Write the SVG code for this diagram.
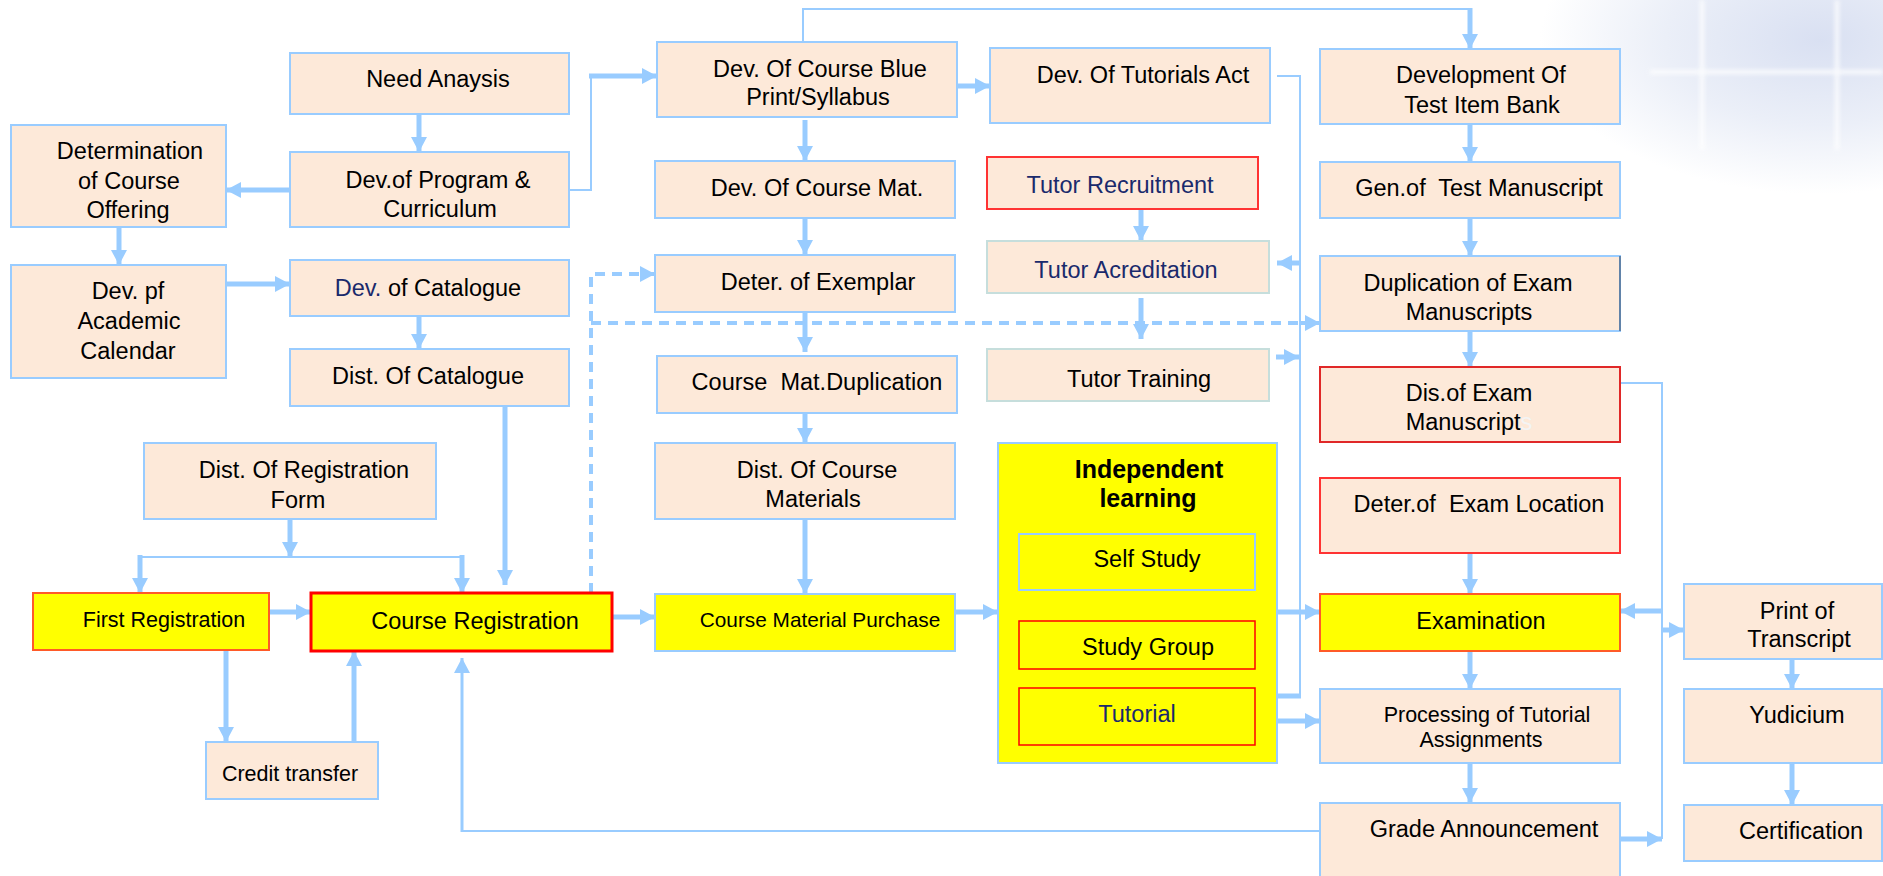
<svg xmlns="http://www.w3.org/2000/svg" width="1883" height="876" viewBox="0 0 1883 876">
<defs>
<radialGradient id="bg" cx="1820" cy="40" r="280" gradientUnits="userSpaceOnUse" gradientTransform="translate(1820 40) scale(1 0.55) translate(-1820 -40)">
<stop offset="0" stop-color="#D9E0F2"/>
<stop offset="0.55" stop-color="#EBEFF8"/>
<stop offset="1" stop-color="#FFFFFF"/>
</radialGradient>
<filter id="blur" x="-10%" y="-10%" width="120%" height="120%"><feGaussianBlur stdDeviation="2"/></filter>
<marker id="ah" markerUnits="userSpaceOnUse" markerWidth="16" markerHeight="18" refX="15" refY="8" orient="auto" viewBox="0 0 16 16">
<path d="M0,0 L15,8 L0,16 Z" fill="#99CCFF"/>
</marker>
<style>
.n rect{fill:#FDE9D9;stroke:#99CCFF;stroke-width:2}
.y rect{fill:#FFFF00}
.t{font-family:"Liberation Sans",Arial,sans-serif;font-size:23.5px;text-anchor:middle;fill:#000}
.s{font-size:21.5px}
.nv{fill:#1A2A6C}
.c{stroke:#99CCFF;stroke-width:5;fill:none}
.h{stroke:#99CCFF;stroke-width:2;fill:none}
.d{stroke:#99CCFF;stroke-width:4;fill:none;stroke-dasharray:10 7}
.a{marker-end:url(#ah)}
</style>
</defs>
<rect width="1883" height="876" fill="#FFFFFF"/>
<rect x="1480" y="0" width="403" height="260" fill="url(#bg)"/>
<g stroke="#FFFFFF" stroke-width="4" opacity="0.85" filter="url(#blur)">
<line x1="1702" y1="0" x2="1702" y2="150"/>
<line x1="1837" y1="0" x2="1837" y2="150"/>
<line x1="1650" y1="72" x2="1883" y2="72"/>
</g>

<g id="connectors">
<path class="c a" d="M419,114 V152"/>
<path class="c a" d="M290,190 H226"/>
<path class="c a" d="M119,227 V265"/>
<path class="c a" d="M226,284 H290"/>
<path class="c a" d="M419,316 V349"/>
<path class="h" d="M569,190 H591 V76"/>
<path class="c a" d="M589,76 H657"/>
<path class="c a" d="M957,86 H990"/>
<path class="c a" d="M805,120 V161"/>
<path class="c a" d="M805,218 V255"/>
<path class="c a" d="M805,312 V352"/>
<path class="c a" d="M805,413 V443"/>
<path class="c a" d="M805,519 V594"/>
<path class="c a" d="M955,612 H998"/>
<path class="c a" d="M612,617 H655"/>
<path class="h" d="M803,42 V9 H1470"/>
<path class="c a" d="M1470,8 V49"/>
<path class="c a" d="M1470,124 V162"/>
<path class="c a" d="M1470,218 V256"/>
<path class="c a" d="M1470,331 V367"/>
<path class="c a" d="M1470,553 V594"/>
<path class="c a" d="M1470,651 V689"/>
<path class="c a" d="M1470,763 V803"/>
<path class="c a" d="M1792,648 V689"/>
<path class="c a" d="M1792,763 V805"/>
<path class="c a" d="M1141,209 V241"/>
<path class="c a" d="M1141,298 V339"/>
<path class="c a" d="M290,519 V557"/>
<path class="h" d="M140,557 H462"/>
<path class="c a" d="M140,555 V593"/>
<path class="c a" d="M462,555 V593"/>
<path class="c a" d="M269,612 H311"/>
<path class="c a" d="M226,650 V742"/>
<path class="c a" d="M354,742 V651"/>
<path class="c a" d="M505,406 V585"/>
<path class="c a" d="M1277,612 H1320"/>
<path class="c a" d="M1255,721 H1320"/>
<path class="h" d="M1277,76 H1300 V696"/>
<path class="c a" d="M1301,696 H1255"/>
<path class="c a" d="M1300,263 H1277"/>
<path class="c a" d="M1276,357 H1299"/>
<path class="h" d="M1620,383 H1662 V611"/>
<path class="c a" d="M1663,611 H1620"/>
<path class="c a" d="M1620,839 H1662"/>
<path class="h" d="M1662,839 V611"/>
<path class="c a" d="M1661,630 H1684"/>
<path class="h" d="M1320,831 H462"/>
<path class="c a" d="M462,832 V658" style="stroke-width:3"/>
<path class="d" d="M591,593 V274 H644"/>
<path class="d a" d="M640,274 H655" style="stroke-dasharray:none"/>
<path class="d" d="M591,323 H1306"/>
<path class="d a" d="M1300,323 H1320" style="stroke-dasharray:none"/>
</g>

<g id="need-analysis" class="n"><rect x="290" y="53" width="279" height="61"/><text class="t" x="438" y="87">Need Anaysis</text></g>
<g id="dev-program" class="n"><rect x="290" y="152" width="279" height="75"/><text class="t" x="438" y="188">Dev.of Program &amp;</text><text class="t" x="440" y="217">Curriculum</text></g>
<g id="determination" class="n"><rect x="11" y="125" width="215" height="102"/><text class="t" x="130" y="159">Determination</text><text class="t" x="129" y="189">of Course</text><text class="t" x="128" y="218">Offering</text></g>
<g id="dev-calendar" class="n"><rect x="11" y="265" width="215" height="113"/><text class="t" x="128" y="299">Dev. pf</text><text class="t" x="129" y="329">Academic</text><text class="t" x="128" y="359">Calendar</text></g>
<g id="dev-catalogue" class="n"><rect x="290" y="260" width="279" height="56"/><text class="t" x="428" y="296"><tspan class="nv">Dev.</tspan> of Catalogue</text></g>
<g id="dist-catalogue" class="n"><rect x="290" y="349" width="279" height="57"/><text class="t" x="428" y="384">Dist. Of Catalogue</text></g>
<g id="dist-registration" class="n"><rect x="144" y="443" width="292" height="76"/><text class="t" x="304" y="478">Dist. Of Registration</text><text class="t" x="298" y="508">Form</text></g>
<g id="first-registration" class="n y"><rect x="33" y="593" width="236" height="57" style="stroke:#FF5A28"/><text class="t s" x="164" y="627">First Registration</text></g>
<g id="course-registration" class="n y"><rect x="311" y="593" width="301" height="58" style="stroke:#FF0000;stroke-width:3"/><text class="t" x="475" y="629">Course Registration</text></g>
<g id="credit-transfer" class="n"><rect x="206" y="742" width="172" height="57"/><text class="t s" x="290" y="781">Credit transfer</text></g>

<g id="blueprint" class="n"><rect x="657" y="42" width="300" height="75"/><text class="t" x="820" y="77">Dev. Of Course Blue</text><text class="t" x="818" y="105">Print/Syllabus</text></g>
<g id="tutorials-act" class="n"><rect x="990" y="48" width="280" height="75"/><text class="t" x="1143" y="83">Dev. Of Tutorials Act</text></g>
<g id="course-mat" class="n"><rect x="655" y="161" width="300" height="57"/><text class="t" x="817" y="196">Dev. Of Course Mat.</text></g>
<g id="exemplar" class="n"><rect x="655" y="255" width="300" height="57"/><text class="t" x="818" y="290">Deter. of Exemplar</text></g>
<g id="mat-duplication" class="n"><rect x="657" y="356" width="300" height="57"/><text class="t" x="817" y="390" xml:space="preserve">Course  Mat.Duplication</text></g>
<g id="dist-materials" class="n"><rect x="655" y="443" width="300" height="76"/><text class="t" x="817" y="478">Dist. Of Course</text><text class="t" x="813" y="507">Materials</text></g>
<g id="purchase" class="n y"><rect x="655" y="594" width="300" height="57"/><text class="t" x="820" y="627" style="font-size:20.8px">Course Material Purchase</text></g>

<g id="independent" class="n y"><rect x="998" y="443" width="279" height="320"/><text class="t" x="1149" y="478" style="font-weight:bold;font-size:25px">Independent</text><text class="t" x="1148" y="507" style="font-weight:bold;font-size:25px">learning</text></g>
<g id="self-study" class="n y"><rect x="1019" y="534" width="236" height="56"/><text class="t" x="1147" y="567">Self Study</text></g>
<g id="study-group" class="n y"><rect x="1019" y="621" width="236" height="48" style="stroke:#FF0000;stroke-width:1.5"/><text class="t" x="1148" y="655">Study Group</text></g>
<g id="tutorial" class="n y"><rect x="1019" y="688" width="236" height="57" style="stroke:#FF0000;stroke-width:1.5"/><text class="t nv" x="1137" y="722">Tutorial</text></g>

<g id="tutor-recruitment" class="n"><rect x="987" y="157" width="271" height="52" style="stroke:#FF3333"/><text class="t nv" x="1120" y="193">Tutor Recruitment</text></g>
<g id="tutor-acreditation" class="n"><rect x="987" y="241" width="282" height="52" style="stroke:#C6DEDC"/><text class="t nv" x="1126" y="278">Tutor Acreditation</text></g>
<g id="tutor-training" class="n"><rect x="987" y="349" width="282" height="52" style="stroke:#C6DEDC"/><text class="t" x="1139" y="387">Tutor Training</text></g>

<g id="test-item-bank" class="n"><rect x="1320" y="49" width="300" height="75"/><text class="t" x="1481" y="83">Development Of</text><text class="t" x="1482" y="113">Test Item Bank</text></g>
<g id="gen-manuscript" class="n"><rect x="1320" y="162" width="300" height="56"/><text class="t" x="1479" y="196" xml:space="preserve">Gen.of  Test Manuscript</text></g>
<g id="dup-exam" class="n"><rect x="1320" y="256" width="300" height="75"/><line x1="1620" y1="256" x2="1620" y2="331" stroke="#4F6B8D" stroke-width="1.5"/><text class="t" x="1468" y="291">Duplication of Exam</text><text class="t" x="1469" y="320">Manuscripts</text></g>
<g id="dis-exam" class="n"><rect x="1320" y="367" width="300" height="75" style="stroke:#E02828"/><text class="t" x="1469" y="401">Dis.of Exam</text><text class="t" x="1469" y="430">Manuscript<tspan fill="#F4F4F4">s</tspan></text></g>
<g id="exam-location" class="n"><rect x="1320" y="478" width="300" height="75" style="stroke:#FF3333"/><text class="t" x="1479" y="512" xml:space="preserve">Deter.of  Exam Location</text></g>
<g id="examination" class="n y"><rect x="1320" y="594" width="300" height="57" style="stroke:#FF5A28"/><text class="t" x="1481" y="629">Examination</text></g>
<g id="processing" class="n"><rect x="1320" y="689" width="300" height="74"/><text class="t s" x="1487" y="722">Processing of Tutorial</text><text class="t s" x="1481" y="747">Assignments</text></g>
<g id="grade" class="n"><rect x="1320" y="803" width="300" height="90"/><text class="t" x="1484" y="837">Grade Announcement</text></g>

<g id="print-transcript" class="n"><rect x="1684" y="584" width="198" height="75"/><text class="t" x="1797" y="619">Print of</text><text class="t" x="1799" y="647">Transcript</text></g>
<g id="yudicium" class="n"><rect x="1684" y="689" width="198" height="74"/><text class="t" x="1797" y="723">Yudicium</text></g>
<g id="certification" class="n"><rect x="1684" y="805" width="198" height="56"/><text class="t" x="1801" y="839">Certification</text></g>
</svg>
